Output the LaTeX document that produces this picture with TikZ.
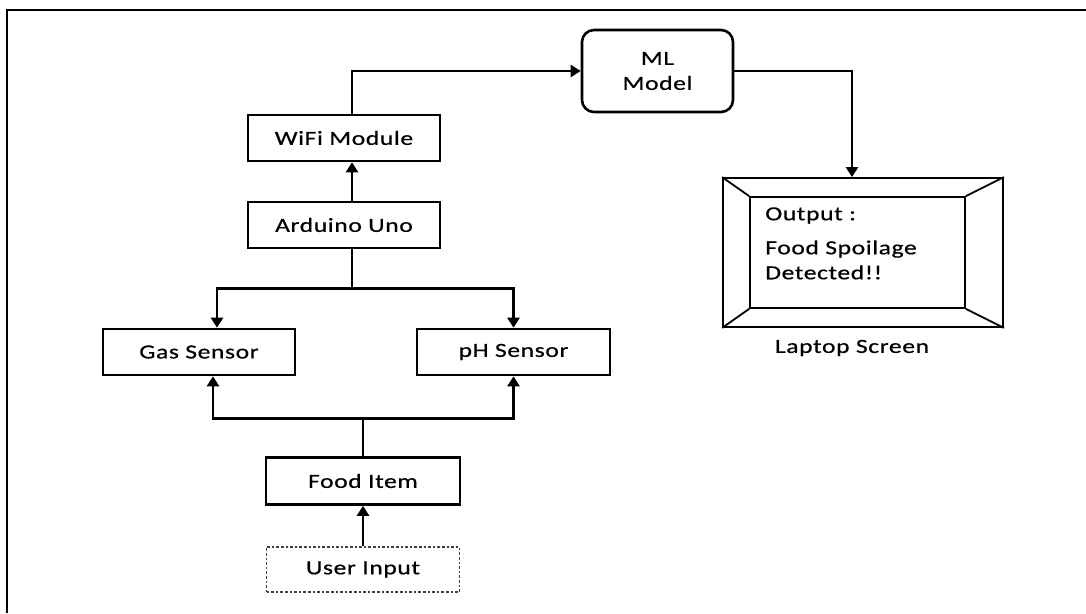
\documentclass[tikz,border=0pt]{standalone}
\usepackage{fontspec}
\setmainfont{Carlito}[FakeStretch=1.28, LetterSpace=3, FakeBold=0.6]
\usetikzlibrary{arrows.meta, positioning}

\begin{document}
\begin{tikzpicture}[
    x=1pt, y=-1pt,
    font=\fontsize{20}{25}\selectfont,
    blk/.style={draw, rectangle, line width=2.6pt, minimum width=192pt, minimum height=46pt, align=center, inner sep=2pt},
    arrow/.style={-{Triangle[width=12pt,length=10pt]}, line width=2.6pt},
    bezel/.style={draw, line width=1.8pt}
]
\useasboundingbox (0,0) rectangle (1086,613);
\draw[line width=2.6pt] (7,613) |- (1086,10);

\node[blk, rounded corners=12pt, minimum width=151pt, minimum height=82pt] (ml) at (657.5,71) {ML\\Model};
\node[blk] (wifi) at (344,138) {WiFi Module};
\node[blk] (uno) at (344,225) {Arduino Uno};
\node[blk] (gas) at (199,352) {Gas Sensor};
\node[blk, minimum width=193pt] (ph) at (513.5,352) {pH Sensor};
\node[blk, minimum width=194pt, minimum height=47pt] (food) at (363,481) {Food Item};
\node[blk, dotted, line width=1.6pt, draw=black!75, minimum width=193pt, minimum height=45pt] (user) at (363,569.5) {User Input};

% laptop screen: outer bezel, inner panel, corner bevels
\node[bezel, minimum width=280pt, minimum height=149pt] (laptop) at (863,252.5) {};
\node[bezel, minimum width=215pt, minimum height=111pt] (screen) at (857.5,252.5) {};
\foreach \c in {north west, north east, south west, south east}
    \draw[bezel] (laptop.\c) -- (screen.\c);
\node[anchor=north west, align=left, inner sep=0pt] (msg) at ([xshift=16pt,yshift=-11pt]screen.north west) {Output :\\[9pt]Food Spoilage\\Detected!!};
\node (lbl) at (852,348) {Laptop Screen};

\draw[arrow] ([xshift=8pt]wifi.north) |- (ml.west);
\draw[arrow] (ml.east) -| ([xshift=-11pt]laptop.north);
\draw[arrow] ([xshift=8pt]uno.north) -- ([xshift=8pt]wifi.south);
\draw[arrow] ([xshift=8pt]uno.south) -- ++(0,39) -| ([xshift=18pt]gas.north);
\draw[arrow] ([xshift=8pt]uno.south) -- ++(0,39) -| (ph.north);
\draw[arrow] (food.north) -- ++(0,-38) -| ([xshift=14pt]gas.south);
\draw[arrow] (food.north) -- ++(0,-38) -| (ph.south);
\draw[arrow] (user) -- (food);
\end{tikzpicture}
\end{document}
